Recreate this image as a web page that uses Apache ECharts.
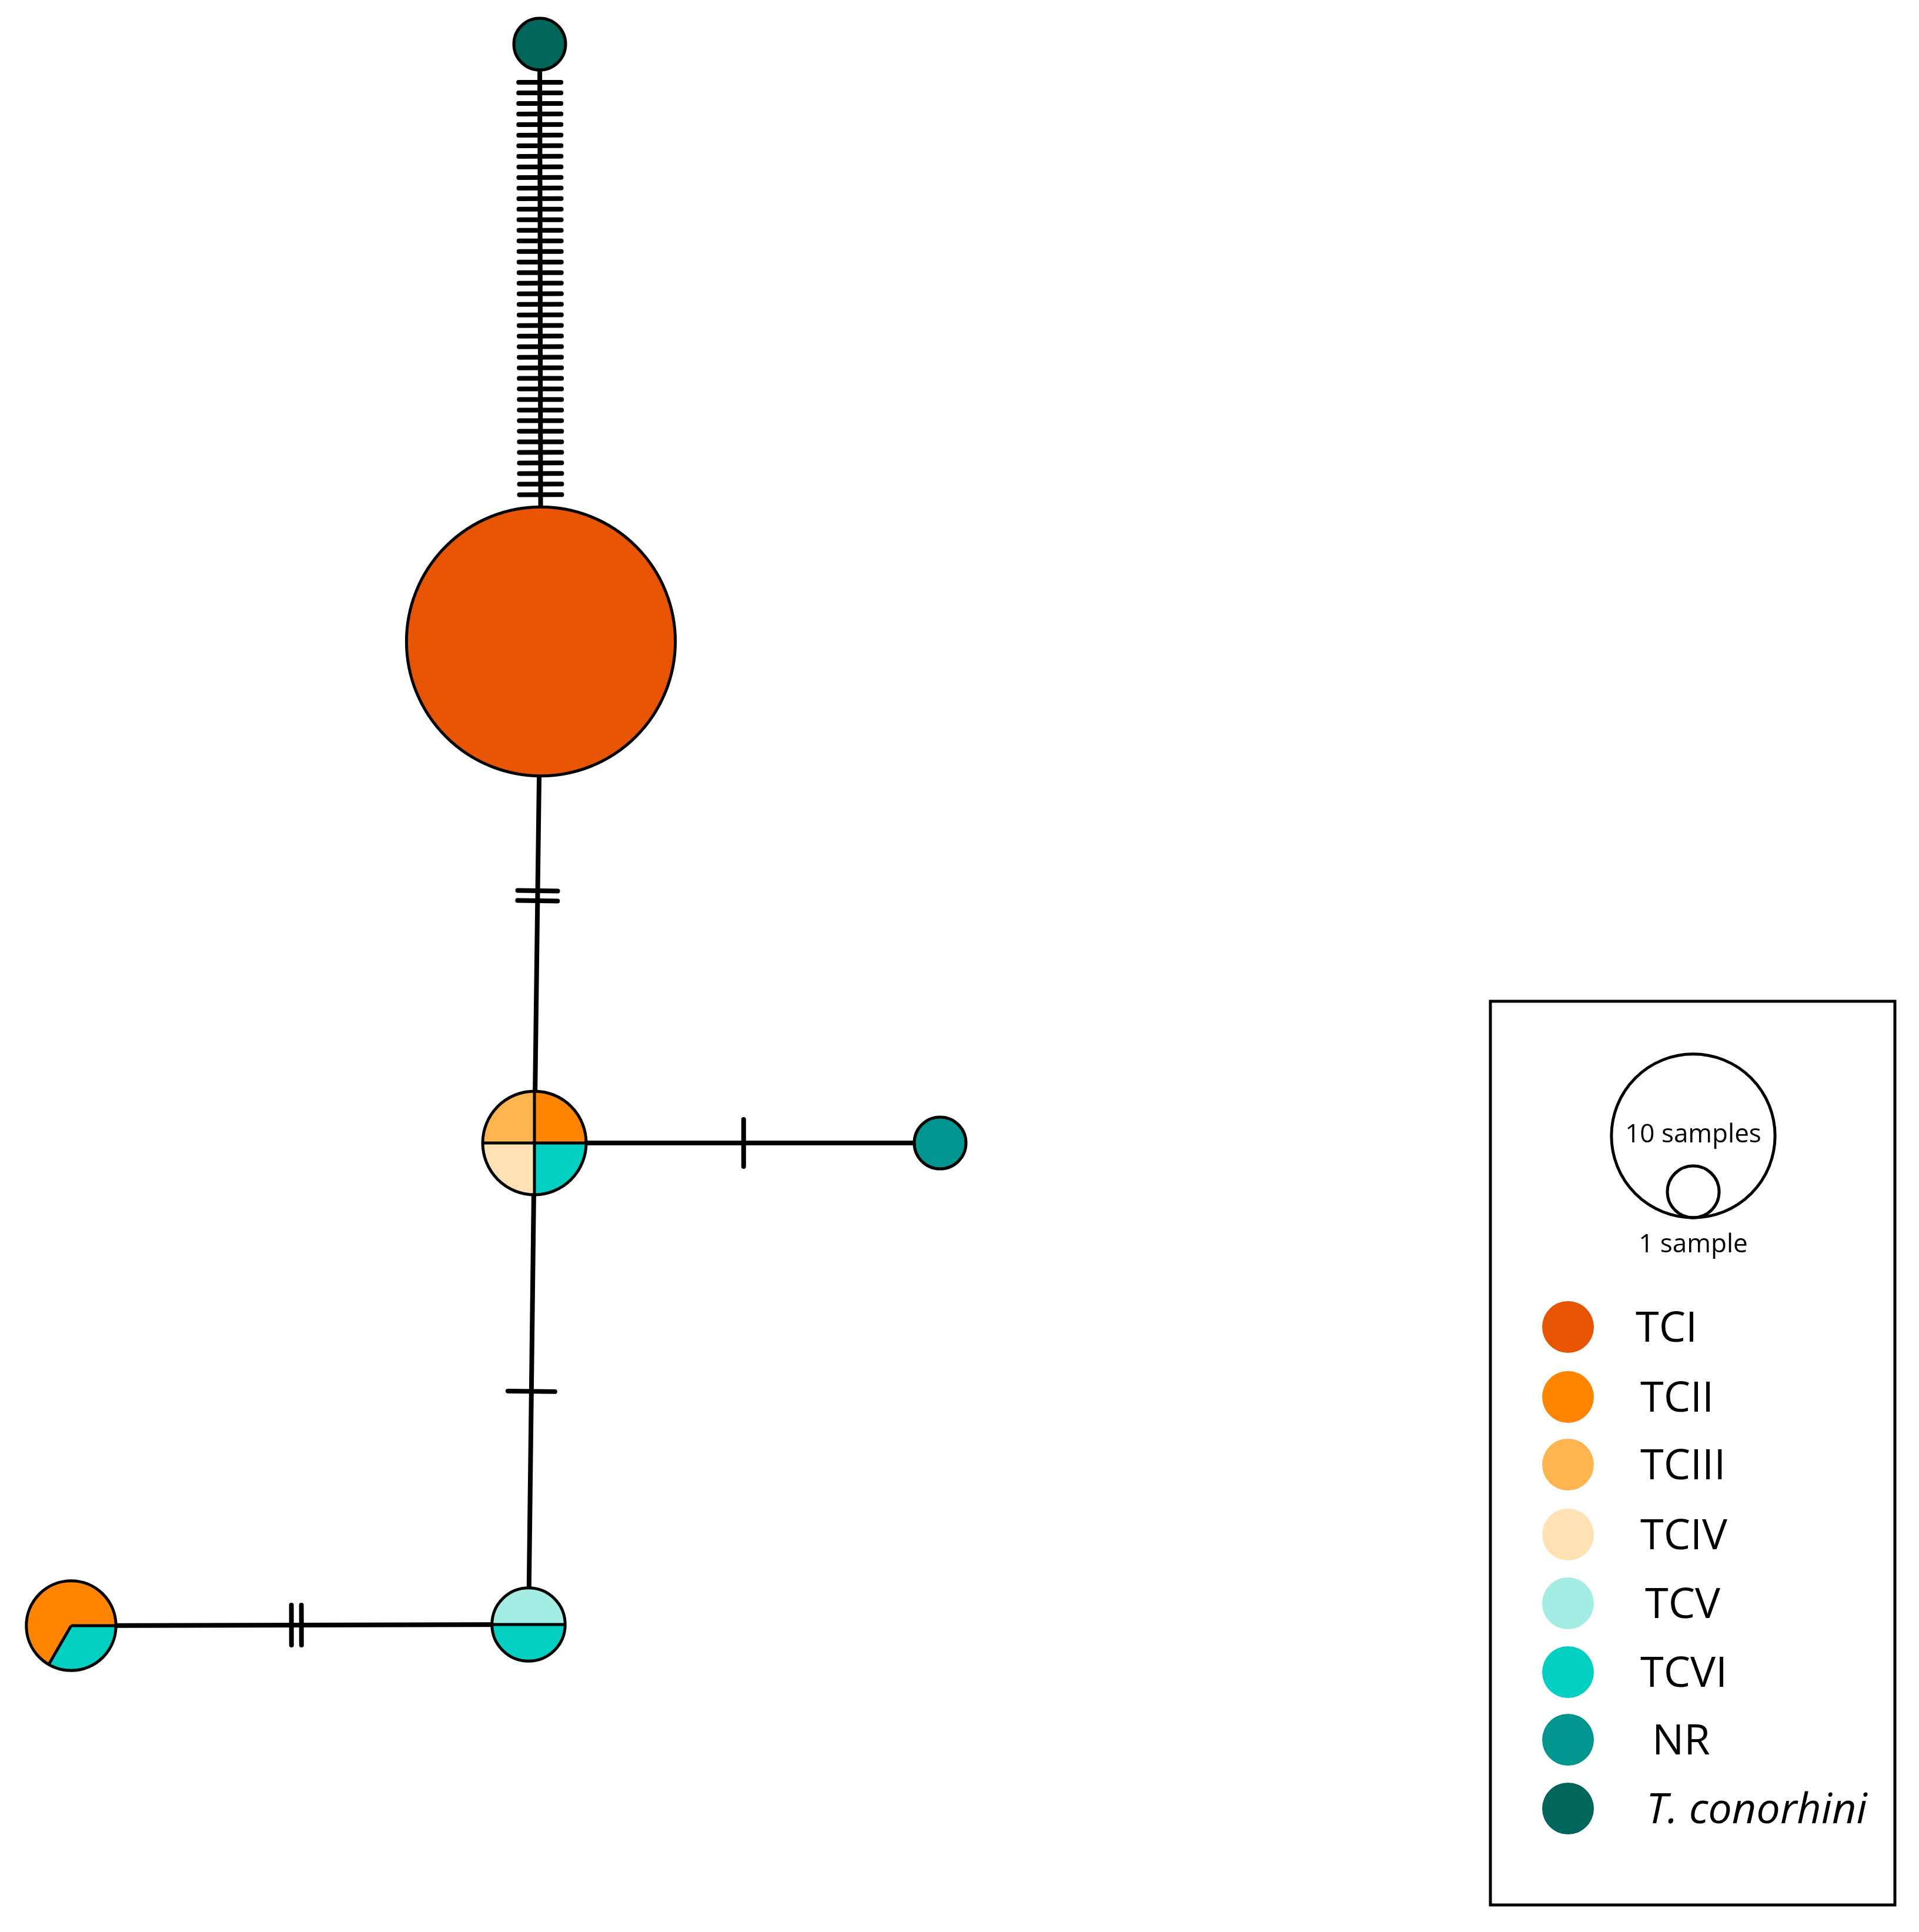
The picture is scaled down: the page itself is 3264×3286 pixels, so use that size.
<!DOCTYPE html>
<html><head><meta charset="utf-8">
<script src="https://cdn.jsdelivr.net/npm/echarts@6/dist/echarts.min.js"></script>
<style>html,body{margin:0;background:#fff}#c{width:3264px;height:3286px}</style>
</head><body><div id="c"></div>
<script>
// Haplotype nodes
const nodeNames = ['Tconorhini','TCI_hap','Mixed4','NR_hap','TCV_hap','Left_hap'];
const nodeX = [918, 920, 909, 1599, 899, 121];
const nodeY = [75, 1091, 1944, 1944, 2763, 2765];
const nodeGroups = [['T. conorhini'],['TCI'],['TCII','TCVI','TCIV','TCIII'],['NR'],['TCVI','TCV'],['TCVI','TCII']];
const nodeCounts = [[1],[27],[1,1,1,1],[1],[1,1],[1,2]];
const nodeStartDeg = [0,0,-90,0,0,0];
// Edges: from, to, number of mutations, position of mutation marks
const edgeFrom = [0,1,2,2,4];
const edgeTo = [1,2,3,4,5];
const edgeMut = [40,2,1,1,2];
const edgeMarkPos = [0.5,0.38,0.48,0.5,0.52];
// Legend
const groupNames = ['TCI','TCII','TCIII','TCIV','TCV','TCVI','NR','T. conorhini'];
const groupColors = ['#E85502','#FF8400','#FFB54F','#FFE1B3','#A3EDE4','#00CFC2','#00968F','#00665C'];
const sizeLegend = [10,1];

const R1 = 44;
const colorOf = g => groupColors[groupNames.indexOf(g)];
const total = a => a.reduce((s,v)=>s+v,0);

const edgeData = edgeFrom.map((f,i)=>[i]);
const nodeData = nodeNames.map((n,i)=>[nodeX[i],nodeY[i],i]);

const chart = echarts.init(document.getElementById('c'),null,{renderer:'canvas'});
chart.setOption({
  animation:false,
  grid:{left:0,right:0,top:0,bottom:0},
  xAxis:{type:'value',min:0,max:3264,show:false},
  yAxis:{type:'value',min:0,max:3286,inverse:true,show:false},
  series:[
  {type:'custom',data:edgeData,z:1,renderItem:(p,api)=>{
    const i=api.value(0),a=edgeFrom[i],b=edgeTo[i];
    const A=api.coord([nodeX[a],nodeY[a]]),B=api.coord([nodeX[b],nodeY[b]]);
    const ra=R1*Math.sqrt(total(nodeCounts[a])), rb=R1*Math.sqrt(total(nodeCounts[b]));
    const dx=B[0]-A[0],dy=B[1]-A[1],L=Math.hypot(dx,dy),ux=dx/L,uy=dy/L,nx=-uy,ny=ux;
    const ch=[{type:'line',shape:{x1:A[0],y1:A[1],x2:B[0],y2:B[1]},style:{stroke:'#000',lineWidth:8}}];
    const n=edgeMut[i];let ts=[];
    if(n>=10){const s=ra+12,e=L-rb-12;for(let k=0;k<n;k++)ts.push(s+(e-s)*(k+0.5)/n);}
    else{const c=ra+(L-ra-rb)*edgeMarkPos[i];for(let k=0;k<n;k++)ts.push(c+(k-(n-1)/2)*17);}
    const h=n>=10?36:(n==1?40:34);
    ts.forEach(t=>{const px=A[0]+ux*t,py=A[1]+uy*t;
      ch.push({type:'line',shape:{x1:px-nx*h,y1:py-ny*h,x2:px+nx*h,y2:py+ny*h},style:{stroke:'#000',lineWidth:8,lineCap:'round'}});});
    return {type:'group',children:ch};
  }},
  {type:'custom',data:nodeData,z:2,renderItem:(p,api)=>{
    const i=api.value(2),c=api.coord([api.value(0),api.value(1)]);
    const cnt=nodeCounts[i],T=total(cnt),r=R1*Math.sqrt(T);
    const ch=[];let ang=nodeStartDeg[i]*Math.PI/180;
    const edges=[];
    cnt.forEach((v,k)=>{const d=v/T*2*Math.PI;
      ch.push({type:'sector',shape:{cx:c[0],cy:c[1],r:r,r0:0,startAngle:ang,endAngle:ang+d,clockwise:true},style:{fill:colorOf(nodeGroups[i][k])}});
      edges.push(ang);ang+=d;});
    if(cnt.length>1)edges.forEach(a=>ch.push({type:'line',shape:{x1:c[0],y1:c[1],x2:c[0]+r*Math.cos(a),y2:c[1]+r*Math.sin(a)},style:{stroke:'#000',lineWidth:5}}));
    ch.push({type:'circle',shape:{cx:c[0],cy:c[1],r:r},style:{fill:'none',stroke:'#000',lineWidth:5}});
    return {type:'group',children:ch};
  }},
  {type:'custom',data:[[0]],z:3,renderItem:(p,api)=>{
    const ch=[{type:'rect',shape:{x:2535,y:1703,width:688,height:1537},style:{fill:'#fff',stroke:'#000',lineWidth:5}}];
    const cx=2880,by=2071;
    sizeLegend.forEach(s=>{const r=R1*Math.sqrt(s);ch.push({type:'circle',shape:{cx:cx,cy:by-r,r:r},style:{fill:'none',stroke:'#000',lineWidth:5}});});
    ch.push({type:'text',style:{x:cx,y:1930,text:sizeLegend[0]+' samples',font:'44px "Open Sans"',fill:'#000',align:'center',verticalAlign:'middle'}});
    ch.push({type:'text',style:{x:cx,y:2117,text:sizeLegend[1]+' sample',font:'44px "Open Sans"',fill:'#000',align:'center',verticalAlign:'middle'}});
    const ys=[2257,2376,2491,2610,2727,2844,2959,3076],tx=[2782,2790,2790,2790,2798,2790,2810,2800];
    groupNames.forEach((g,k)=>{
      ch.push({type:'circle',shape:{cx:2667,cy:ys[k],r:44},style:{fill:groupColors[k]}});
      ch.push({type:'text',style:{x:tx[k],y:ys[k]+4,text:g,font:(k==7?'italic ':'')+'72px "Open Sans"',fill:'#000',align:'left',verticalAlign:'middle'}});
    });
    return {type:'group',children:ch};
  }}
  ]
});
</script></body></html>
